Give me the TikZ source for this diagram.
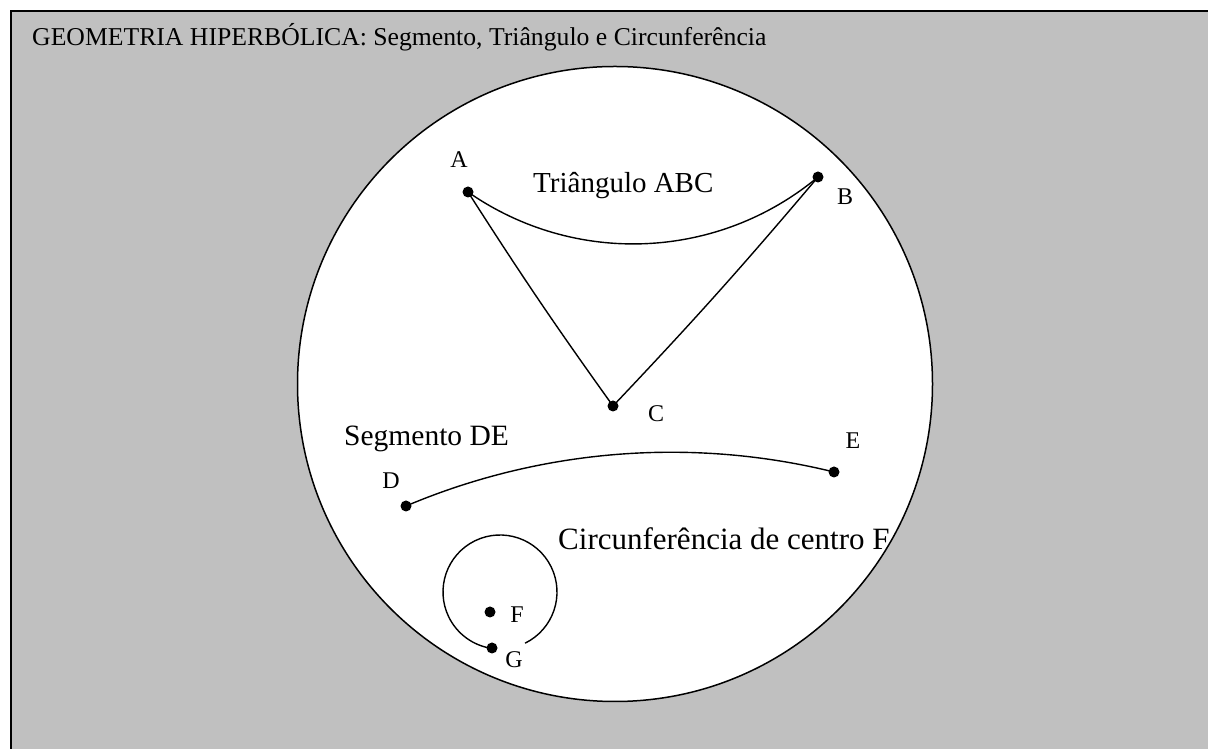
\documentclass[tikz,border=0pt]{standalone}
\usepackage{fontspec}
\setmainfont{Liberation Serif}
\begin{document}
\begin{tikzpicture}[x=1pt,y=1pt,
  dot/.style={circle,fill=black,inner sep=0pt,minimum size=11pt},
  ptlabel/.style={inner sep=0pt,font=\fontsize{24}{26}\selectfont},
  bigtext/.style={inner sep=0pt,anchor=base west},
  curve/.style={line width=1.4pt}]
\useasboundingbox (0,0) rectangle (1208,749);
% frame
\fill[white] (0,0) rectangle (1208,749);
\fill[fill={rgb,255:red,192;green,192;blue,192}] (11,-2) rectangle (1212,738);
\draw[line width=2pt] (11,-2) -- (11,738) -- (1212,738);
% disk
\draw[fill=white,line width=1.5pt] (615,365) circle[radius=317.5];
% title
\node[bigtext,font=\fontsize{25.7}{28}\selectfont] (title) at (32,703) {GEOMETRIA HIPERBÓLICA: Segmento, Triângulo e Circunferência};
% points
\node[dot] (A) at (468,557) {};
\node[dot] (B) at (818,572) {};
\node[dot] (C) at (613,343) {};
\node[dot] (D) at (406,243) {};
\node[dot] (E) at (834,277) {};
\node[dot] (F) at (490,137) {};
\node[dot] (G) at (492,101) {};
% point labels
\node[ptlabel] (lA) at (459,589) {A};
\node[ptlabel] (lB) at (845,552) {B};
\node[ptlabel] (lC) at (656,335) {C};
\node[ptlabel] (lD) at (391,268) {D};
\node[ptlabel] (lE) at (853,308) {E};
\node[ptlabel] (lF) at (517,134) {F};
\node[ptlabel] (lG) at (514,89) {G};
% texts
\node[bigtext,font=\fontsize{29}{32}\selectfont] (tri) at (533,556) {Triângulo ABC};
\node[bigtext,font=\fontsize{29.5}{32}\selectfont] (seg) at (344,303) {Segmento DE};
\node[bigtext,font=\fontsize{31}{34}\selectfont] (circ) at (558,199) {Circunferência de centro F};
% triangle ABC (geodesics)
\draw[curve] (A.center) .. controls (574.7,482.5) and (718.1,488.7) .. (B.center);
\draw[curve] (A.center) to[bend right=1.5] (C.center);
\draw[curve] (C.center) to[bend right=1.6] (B.center);
% segment DE
\draw[curve] (D.center) .. controls (541.3,300.2) and (691.4,312.1) .. (E.center);
% circle of centre F (open arc ending at G)
\coordinate (Fc) at (500,157);
\draw[curve] ([shift={(-63.9:57)}]Fc) arc[start angle=-63.9, end angle=261.9, radius=57];
\end{tikzpicture}
\end{document}
